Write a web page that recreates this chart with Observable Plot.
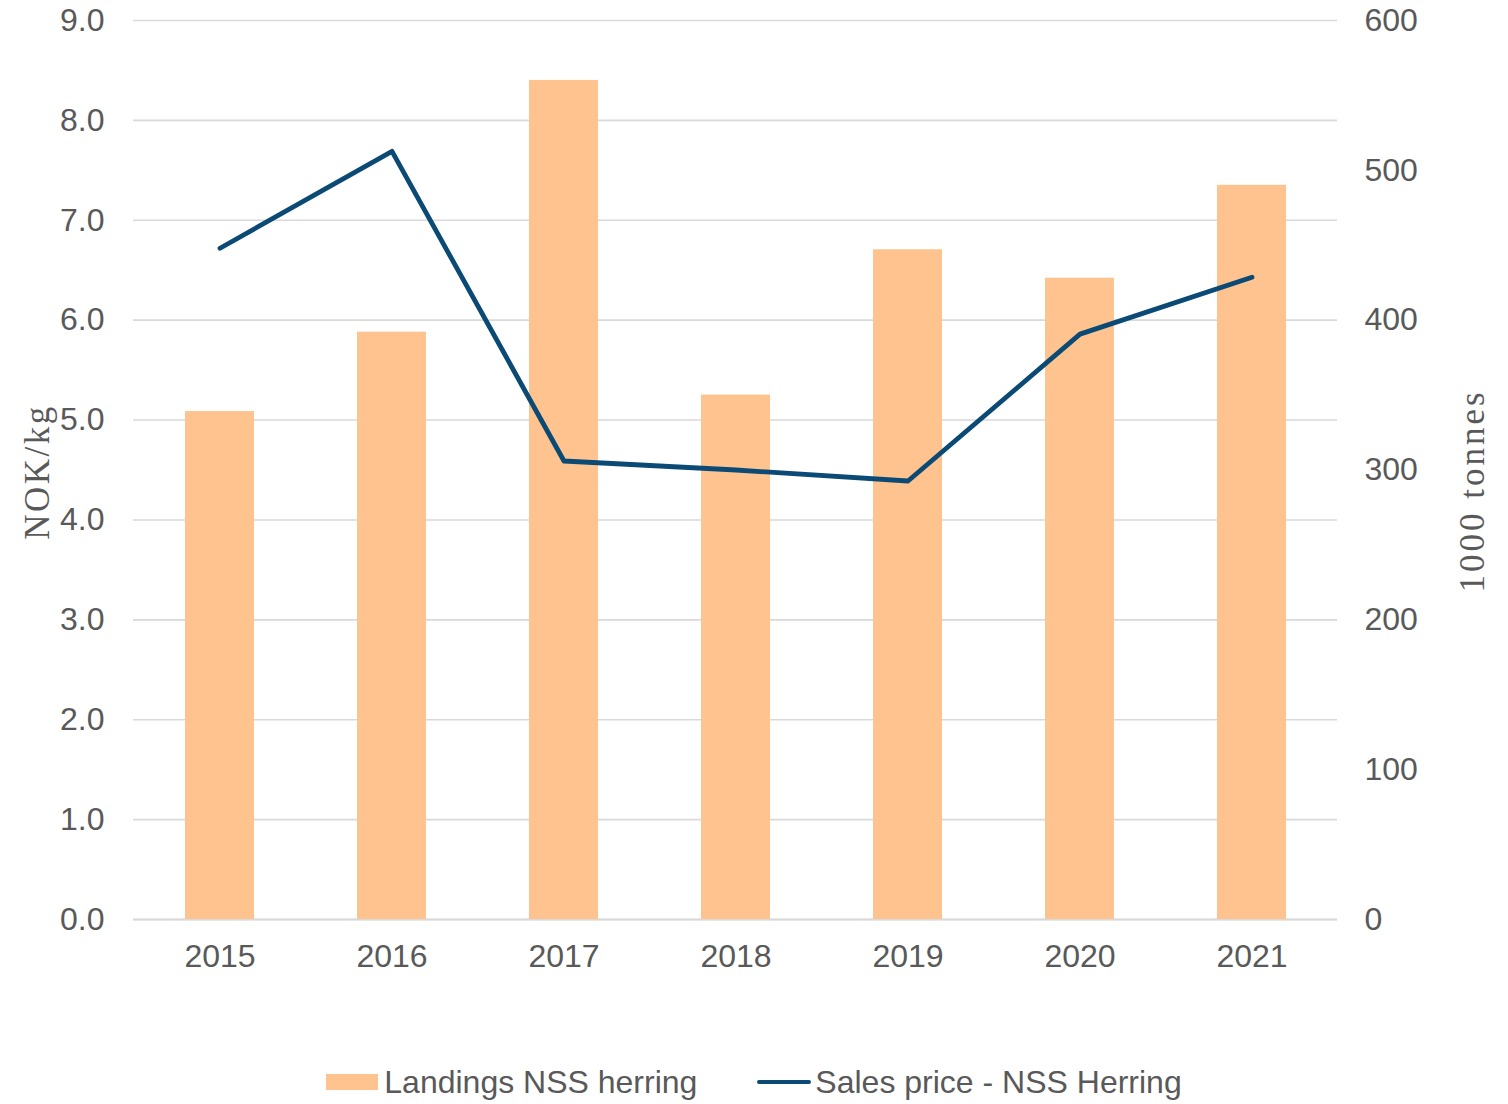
<!DOCTYPE html>
<html>
<head>
<meta charset="utf-8">
<script src="https://cdn.jsdelivr.net/npm/d3@7"></script>
<script src="https://cdn.jsdelivr.net/npm/@observablehq/plot@0.6"></script>
<style>
  html, body { margin: 0; padding: 0; background: #fff; }
  #chart { position: relative; width: 1508px; height: 1104px; }
  .ttl-left text { letter-spacing: 2.5px; }
  .ttl-right text { letter-spacing: 3px; }
  #legend {
    position: absolute; left: 0; top: 1062px; width: 1508px; height: 40px;
    display: flex; align-items: center; justify-content: center;
    font-family: "Liberation Sans", Arial, sans-serif; font-size: 32px; color: #595959;
  }
  .item { display: flex; align-items: center; }
  .sw-bar { width: 52px; height: 16px; background: #fec38e; margin-right: 6px; }
  .sw-line { width: 54px; height: 4px; background: #0c4a76; border-radius: 2px; margin-right: 4px; }
</style>
</head>
<body>
<div id="chart"></div>
<script>
const years = ["2015", "2016", "2017", "2018", "2019", "2020", "2021"];
const landings = [339, 392, 560, 350, 447, 428, 490];      // 1000 tonnes (right axis)
const price = [6.72, 7.69, 4.59, 4.50, 4.39, 5.86, 6.43];  // NOK/kg (left axis)
const leftTicks = [0, 1, 2, 3, 4, 5, 6, 7, 8, 9];
const rightTicks = [0, 100, 200, 300, 400, 500, 600];
const seriesNames = ["Landings NSS herring", "Sales price - NSS Herring"];

const scaleK = 9 / 600; // tonnes -> NOK/kg axis units
const data = years.map((y, i) => ({year: y, landings: landings[i], price: price[i]}));
const serif = "'Liberation Serif', 'Times New Roman', serif";

const plot = Plot.plot({
  width: 1508,
  height: 1040,
  marginLeft: 133,
  marginRight: 171,
  marginTop: 20,
  marginBottom: 121,
  style: {color: "#595959", fontFamily: "'Liberation Sans', Arial, sans-serif", fontSize: "32px", background: "#fff"},
  x: {type: "band", domain: years, paddingInner: 0.6, paddingOuter: 0.3},
  y: {domain: [0, 9]},
  marks: [
    Plot.gridY(leftTicks, {stroke: "#d9d9d9", strokeOpacity: 1, strokeWidth: 1.6}),
    Plot.ruleY([0], {stroke: "#d9d9d9", strokeWidth: 2}),
    Plot.barY(data, {x: "year", y: d => d.landings * scaleK, fill: "#fec38e"}),
    Plot.lineY(data, {x: "year", y: "price", stroke: "#0c4a76", strokeWidth: 4.8, strokeLinejoin: "round", strokeLinecap: "round"}),
    Plot.axisY({ticks: leftTicks, tickFormat: d => d.toFixed(1), tickSize: 0, tickPadding: 29, label: null, fontSize: 32}),
    Plot.axisY({anchor: "right", ticks: rightTicks.map(t => t * scaleK), tickFormat: d => String(Math.round(d / scaleK)), tickSize: 0, tickPadding: 27, label: null, fontSize: 32}),
    Plot.axisX({tickSize: 0, tickPadding: 25, label: null, fontSize: 32}),
    Plot.text(["NOK/kg"], {frameAnchor: "left", textAnchor: "middle", lineAnchor: "middle", dx: -96, dy: 2, rotate: -90, text: d => d, fill: "#595959", fontFamily: serif, fontSize: 35, className: "ttl-left"}),
    Plot.text(["1000 tonnes"], {frameAnchor: "right", textAnchor: "middle", lineAnchor: "middle", dx: 135, dy: 21, rotate: -90, text: d => d, fill: "#595959", fontFamily: serif, fontSize: 35, className: "ttl-right"})
  ]
});
const chart = document.getElementById("chart");
chart.appendChild(plot);

const legend = document.createElement("div");
legend.id = "legend";
legend.innerHTML =
  `<div class="item"><div class="sw-bar"></div><span>${seriesNames[0]}</span></div>` +
  `<div class="item" style="margin-left:60px"><div class="sw-line"></div><span>${seriesNames[1]}</span></div>`;
chart.appendChild(legend);
</script>
</body>
</html>
